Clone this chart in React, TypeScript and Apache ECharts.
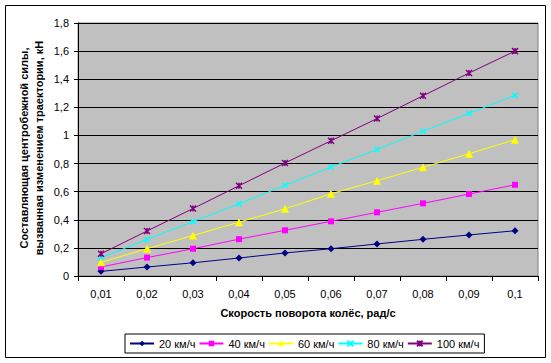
import React, { useEffect, useRef } from "react";
import * as echarts from "echarts";

const categories = ["0,01", "0,02", "0,03", "0,04", "0,05", "0,06", "0,07", "0,08", "0,09", "0,1"];
const seriesNames = ["20 км/ч", "40 км/ч", "60 км/ч", "80 км/ч", "100 км/ч"];
const s20 = [0.033, 0.064, 0.094, 0.128, 0.164, 0.194, 0.228, 0.261, 0.292, 0.322];
const s40 = [0.064, 0.131, 0.194, 0.262, 0.325, 0.389, 0.453, 0.517, 0.583, 0.649];
const s60 = [0.097, 0.194, 0.288, 0.383, 0.478, 0.585, 0.678, 0.773, 0.87, 0.97];
const s80 = [0.13, 0.26, 0.387, 0.513, 0.645, 0.775, 0.9, 1.03, 1.157, 1.285];
const s100 = [0.158, 0.32, 0.48, 0.642, 0.804, 0.962, 1.12, 1.282, 1.444, 1.6];
const yTitle1 = "Составляющая центробежной силы,";
const yTitle2 = "вызванная изменением траектории, кН";
const xTitle = "Скорость поворота колёс, рад/с";

const colors = ["#000080", "#FF00FF", "#FFFF00", "#00FFFF", "#800080"];
const symbols = [
  "diamond",
  "rect",
  "triangle",
  "path://M0,0L10,10M10,0L0,10",
  "path://M0,0L10,10M10,0L0,10M5,0L5,10",
];
const symbolSizes = [7, 6, 8, 5, 6];

export default function App() {
  const ref = useRef<HTMLDivElement>(null);
  useEffect(() => {
    const chart = echarts.init(ref.current!, undefined, { renderer: "svg" });
    const data = [s20, s40, s60, s80, s100];
    const font = "Arial";
    chart.setOption({
      animation: false,
      backgroundColor: "#ffffff",
      textStyle: { fontFamily: font },
      grid: {
        left: 78,
        top: 23,
        right: 13,
        bottom: 87,
        show: true,
        backgroundColor: "#C0C0C0",
        borderColor: "#808080",
        borderWidth: 1,
      },
      xAxis: {
        type: "category",
        data: categories,
        boundaryGap: true,
        axisLine: { lineStyle: { color: "#000", width: 1 } },
        axisTick: { show: true, length: 5, inside: false, lineStyle: { color: "#000" } },
        axisLabel: { color: "#000", fontSize: 11, fontFamily: font, margin: 12 },
        splitLine: { show: false },
      },
      yAxis: {
        type: "value",
        min: 0,
        max: 1.8,
        interval: 0.2,
        axisLine: { show: true, lineStyle: { color: "#000", width: 1 } },
        axisTick: { show: true, length: 4, lineStyle: { color: "#000" } },
        axisLabel: {
          color: "#000",
          fontSize: 11,
          fontFamily: font,
          margin: 9,
          formatter: (v: number) => String(Math.round(v * 10) / 10).replace(".", ","),
        },
        splitLine: { show: true, lineStyle: { color: "#000", width: 1 } },
      },
      legend: {
        left: 125,
        top: 334,
        orient: "horizontal",
        padding: [4, 5, 4, 4],
        itemGap: 3,
        itemWidth: 24,
        itemHeight: 7,
        borderColor: "#000",
        borderWidth: 1,
        backgroundColor: "#fff",
        textStyle: { color: "#000", fontSize: 11, fontFamily: font },
        data: seriesNames,
      },
      series: seriesNames.map((name, i) => ({
        name,
        type: "line",
        data: data[i],
        symbol: symbols[i],
        symbolSize: symbolSizes[i],
        showSymbol: true,
        lineStyle: { color: colors[i], width: 1 },
        itemStyle: { color: colors[i], borderColor: colors[i], borderWidth: i >= 3 ? 1.5 : 0 },
        emphasis: { disabled: true },
      })),
      graphic: [
        {
          type: "rect",
          shape: { x: 5.5, y: 5.5, width: 540, height: 352 },
          style: { fill: "none", stroke: "#000", lineWidth: 1 },
          silent: true,
          z: 100,
        },
        {
          type: "text",
          x: 24,
          y: 148,
          rotation: Math.PI / 2,
          style: {
            text: yTitle1,
            font: `bold 11px ${font}`,
            fill: "#000",
            align: "center",
            verticalAlign: "middle",
          },
        },
        {
          type: "text",
          x: 39,
          y: 148,
          rotation: Math.PI / 2,
          style: {
            text: yTitle2,
            font: `bold 11px ${font}`,
            fill: "#000",
            align: "center",
            verticalAlign: "middle",
          },
        },
        {
          type: "text",
          x: 308,
          y: 313,
          style: {
            text: xTitle,
            font: `bold 11px ${font}`,
            fill: "#000",
            align: "center",
            verticalAlign: "middle",
          },
        },
      ],
    });
    return () => chart.dispose();
  }, []);
  return (
    <div
      ref={ref}
      style={{ position: "fixed", left: 0, top: 0, width: 551, height: 363 }}
    />
  );
}
